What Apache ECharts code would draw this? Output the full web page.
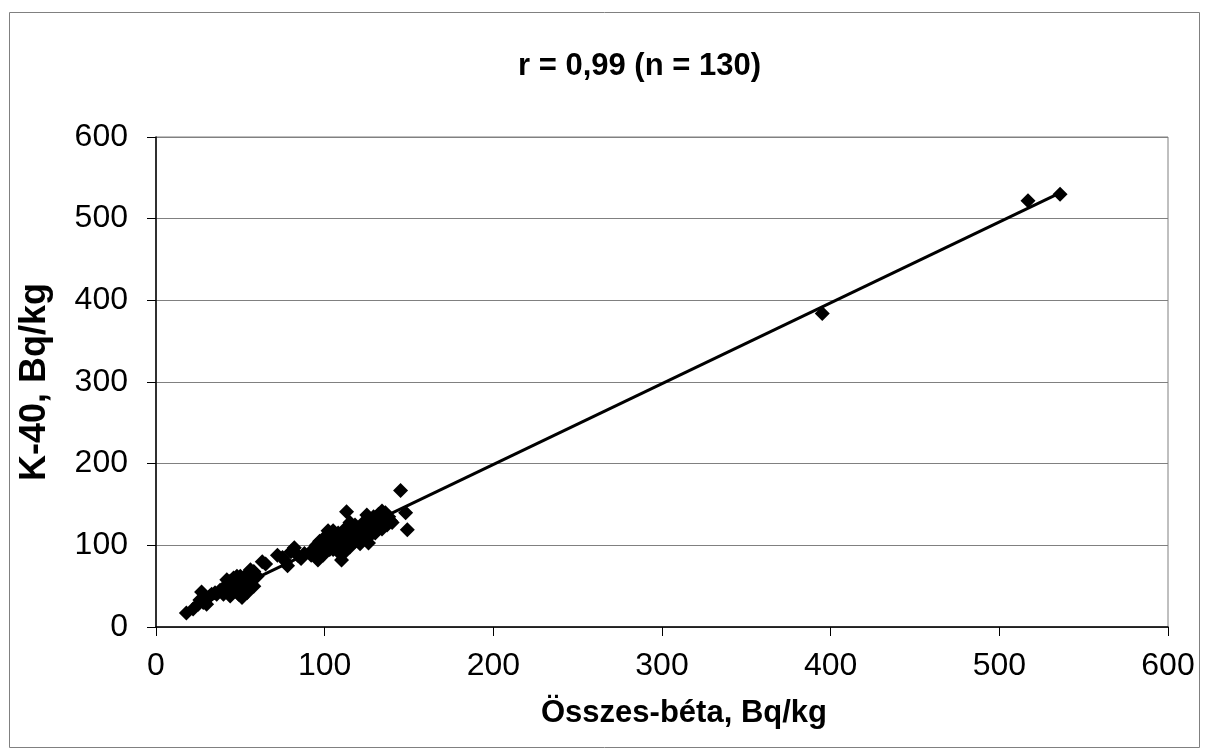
<!DOCTYPE html>
<html>
<head>
<meta charset="utf-8">
<script src="https://cdn.jsdelivr.net/npm/echarts@6/dist/echarts.min.js"></script>
<style>
html,body{margin:0;padding:0;background:#fff;}
#chart{width:1208px;height:755px;}
</style>
</head>
<body>
<div id="chart"></div>
<script>
const titleText = 'r = 0,99 (n = 130)';
const xName = 'Összes-béta, Bq/kg';
const yName = 'K-40, Bq/kg';
const xTicks = [0, 100, 200, 300, 400, 500, 600];
const yTicks = [0, 100, 200, 300, 400, 500, 600];

const lowCluster = [
  [18,17],[22,22],[25,28],[27,43],[28,30],[30,35],[26,33],[32,38],[35,42],[38,45],
  [40,40],[41,50],[42,58],[43,46],[44,38],[45,52],[46,60],[47,44],[48,55],[49,40],
  [50,62],[50,48],[51,36],[52,58],[53,45],[54,65],[55,52],[56,70],[57,58],[58,50],
  [46,48],[44,56],[48,62],[52,50],[54,42],[40,45],[36,40],[33,40],[30,28],[58,68],
  [60,62],[55,56],[50,54],[47,50]
];
const midCluster = [
  [63,80],[65,77],[72,88],[75,85],[78,75],[80,92],[82,97],[84,88],[86,84],[88,90],[77,80]
];
const highCluster = [
  [93,95],[95,100],[96,82],[97,105],[98,92],[99,88],[100,110],[101,98],[102,118],[103,105],
  [104,112],[105,95],[106,108],[107,100],[108,115],[109,104],[110,82],[110,96],[111,110],[112,120],
  [113,141],[113,104],[114,112],[115,98],[116,118],[117,106],[118,125],[119,110],[120,115],[121,102],
  [122,120],[123,128],[124,108],[125,118],[126,103],[127,130],[128,122],[129,135],[130,115],[131,125],
  [132,138],[133,128],[134,120],[135,132],[136,140],[137,125],[138,135],[139,130],[140,128],[127,112],
  [122,112],[118,105],[105,118],[100,102],[108,92],[115,128],[125,137],[132,122],[120,108],[111,90],
  [103,95],[116,112],[95,90],[92,88],[106,100],[124,125],[134,142],[97,98],[130,132]
];
const outliers = [[145,167],[148,140],[149,119],[395,384],[517,522],[536,530]];
const trendLine = [[18,18.8],[536,531.6]];

const points = lowCluster.concat(midCluster, highCluster, outliers);

const FF = 'Liberation Sans, Arial, sans-serif';
const chart = echarts.init(document.getElementById('chart'));
chart.setOption({
  animation: false,
  backgroundColor: '#fff',
  textStyle: { fontFamily: FF },
  graphic: [{
    type: 'rect',
    shape: { x: 9.5, y: 12.5, width: 1190, height: 735 },
    style: { fill: 'none', stroke: '#808080', lineWidth: 1 },
    silent: true
  }],
  title: {
    text: titleText,
    left: 513,
    top: 46,
    textStyle: { fontFamily: FF, fontWeight: 'bold', fontSize: 31, color: '#000' }
  },
  grid: {
    left: 156, right: 40, top: 137, bottom: 128,
    show: true, borderColor: '#808080', borderWidth: 1, backgroundColor: '#fff'
  },
  xAxis: {
    type: 'value', min: 0, max: 600, interval: 100,
    name: xName, nameLocation: 'middle', nameGap: 71,
    nameTextStyle: { fontFamily: FF, fontWeight: 'bold', fontSize: 31, color: '#000', padding: [0, 0, 0, 44] },
    axisLine: { show: true, onZero: false, lineStyle: { color: '#000', width: 1.5 } },
    axisTick: { show: true, inside: false, length: 9, lineStyle: { color: '#000' } },
    axisLabel: { fontSize: 32, color: '#000', margin: 23,
      formatter: v => xTicks.includes(v) ? String(v) : '' },
    splitLine: { show: false }
  },
  yAxis: {
    type: 'value', min: 0, max: 600, interval: 100,
    name: yName, nameLocation: 'middle', nameGap: 103, nameRotate: 90,
    nameTextStyle: { fontFamily: FF, fontWeight: 'bold', fontSize: 36, color: '#000' },
    axisLine: { show: true, onZero: false, lineStyle: { color: '#000', width: 1.5 } },
    axisTick: { show: true, inside: false, length: 9, lineStyle: { color: '#000' } },
    axisLabel: { fontSize: 32, color: '#000', margin: 28,
      formatter: v => yTicks.includes(v) ? String(v) : '' },
    splitLine: { show: true, lineStyle: { color: '#808080', width: 1 } }
  },
  series: [
    {
      type: 'line',
      data: trendLine,
      symbol: 'none',
      lineStyle: { color: '#000', width: 3 },
      z: 3
    },
    {
      type: 'scatter',
      data: points,
      symbol: 'diamond',
      symbolSize: 15,
      itemStyle: { color: '#000', opacity: 1 },
      z: 4
    }
  ]
});
</script>
</body>
</html>
